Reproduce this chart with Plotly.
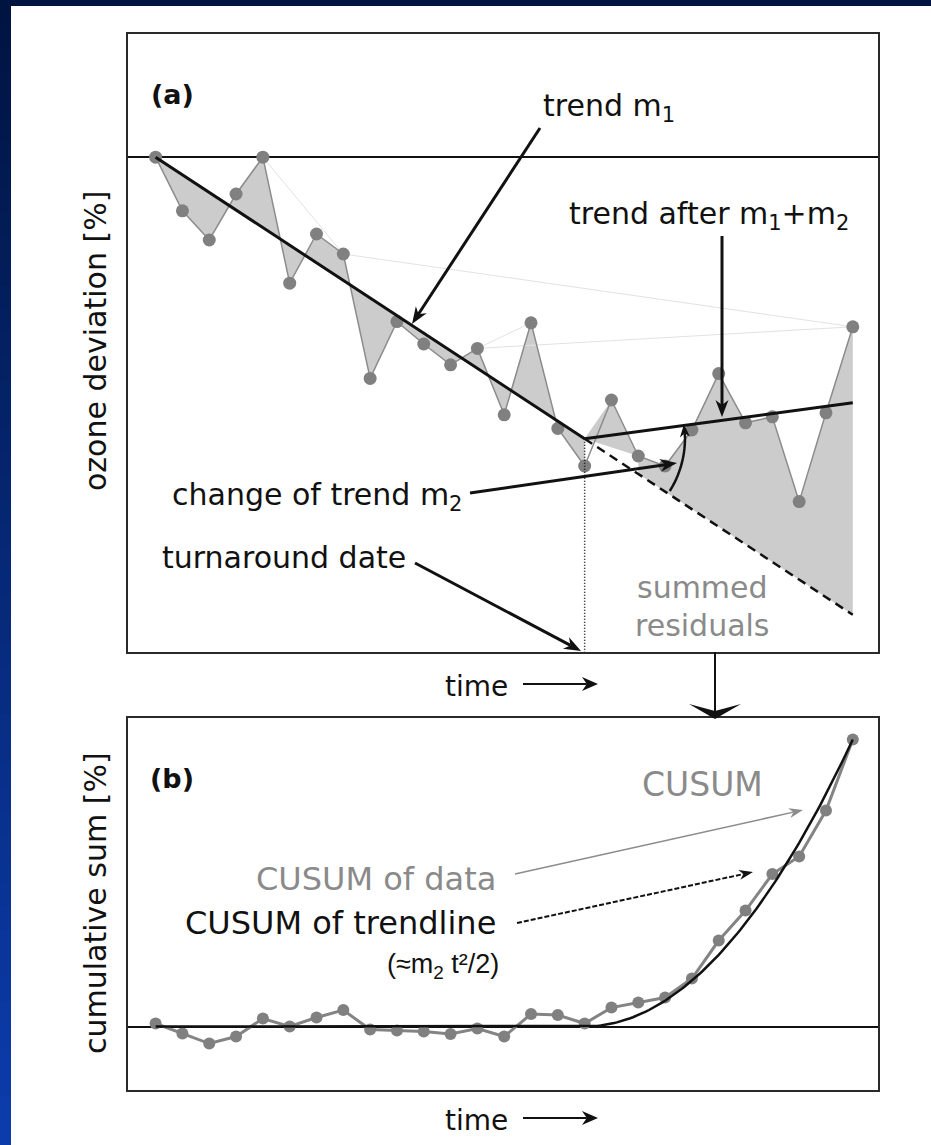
import math
import plotly.graph_objects as go

W, H = 931, 1145

# ---- data -----------------------------------------------------------------
# time index of the samples
t = list(range(27))
# ozone deviation [%] of each sample (panel a)
ozone = [0.0, -1.34, -2.07, -0.92, 0.0, -3.15, -1.92, -2.42, -5.53, -4.11,
         -4.67, -5.19, -4.78, -6.44, -4.14, -6.78, -7.72, -6.07, -7.47, -7.72,
         -6.82, -5.41, -6.64, -6.49, -8.61, -6.39, -4.24]
# cumulative sum of the residuals (panel b)
cusum = [0.28, -0.65, -1.57, -0.92, 0.74, 0.0, 0.83, 1.52, -0.28, -0.37,
         -0.46, -0.69, -0.18, -0.92, 1.15, 1.06, 0.28, 1.75, 2.22, 2.68,
         4.43, 7.94, 10.71, 14.08, 15.70, 19.94, 26.50]
m1 = -0.44       # initial trend per time step
m2 = 0.53        # change of trend after the turnaround
t_turn = 16      # turnaround date (index)

# ---- helpers (pixel -> paper) ---------------------------------------------
def px(x):
    return x / W


def py(y):
    return 1 - y / H


FONT = "DejaVu Sans, Liberation Sans, Arial"
BLACK = "#111111"
GREY_TXT = "#8a8a8a"
FILL = "#cccccc"

shapes = []
annotations = []


def seg(x0, y0, x1, y1, color=BLACK, width=3, dash=None):
    line = dict(color=color, width=width)
    if dash:
        line["dash"] = dash
    shapes.append(dict(type="line", xref="paper", yref="paper",
                       x0=px(x0), y0=py(y0), x1=px(x1), y1=py(y1), line=line))


def poly(points, fill=BLACK, close=True, line_color=None, line_width=0):
    d = "M " + " L ".join(f"{px(a):.5f},{py(b):.5f}" for a, b in points)
    if close:
        d += " Z"
    shp = dict(type="path", xref="paper", yref="paper", path=d,
               line=dict(width=line_width, color=line_color or fill))
    shp["fillcolor"] = fill if close else "rgba(0,0,0,0)"
    shapes.append(shp)


def arrow(x0, y0, x1, y1, color=BLACK, width=3, hl=17, hw=6.5, notch=0.3, dash=None):
    dx, dy = x1 - x0, y1 - y0
    L = math.hypot(dx, dy)
    ux, uy = dx / L, dy / L
    nx, ny = -uy, ux
    bx, by = x1 - ux * hl, y1 - uy * hl
    cx, cy = x1 - ux * hl * (1 - notch), y1 - uy * hl * (1 - notch)
    seg(x0, y0, cx, cy, color, width, dash)
    poly([(x1, y1), (bx + nx * hw, by + ny * hw), (cx, cy),
          (bx - nx * hw, by - ny * hw)], fill=color)


def text(x, y, s, size=30, color=BLACK, anchor="left", bold=False, angle=0,
         family=FONT):
    annotations.append(dict(
        x=px(x), y=py(y), xref="paper", yref="paper", text=s, showarrow=False,
        xanchor=anchor, yanchor="middle", textangle=angle,
        font=dict(family=family, size=size, color=color,
                  weight="bold" if bold else "normal")))


# ---- background: blue slide with white card --------------------------------
def lerp(c0, c1, f):
    return "rgb(%d,%d,%d)" % tuple(round(a + (b - a) * f) for a, b in zip(c0, c1))


top_c, bot_c = (0, 20, 66), (12, 60, 172)
N = 48
for i in range(N):
    shapes.append(dict(type="rect", xref="paper", yref="paper", layer="below",
                       x0=0, x1=px(12), y0=py((i + 1) * H / N + 1.5),
                       y1=py(i * H / N - 1.5),
                       fillcolor=lerp(top_c, bot_c, i / (N - 1)), line=dict(width=0)))
shapes.append(dict(type="rect", xref="paper", yref="paper", layer="below",
                   x0=0, x1=1, y0=py(6), y1=1, fillcolor=lerp(top_c, top_c, 0),
                   line=dict(width=0)))
shapes.append(dict(type="rect", xref="paper", yref="paper", layer="below",
                   x0=px(11), x1=1, y0=0, y1=py(6), fillcolor="white",
                   line=dict(width=0)))

# ---- traces: panel (a) -----------------------------------------------------
fig = go.Figure()
# residual area before the turnaround: between samples and trend m1
t_a = [ti for ti in t if ti <= t_turn]
fig.add_trace(go.Scatter(x=t_a, y=[m1 * ti for ti in t_a], mode="lines",
                         line=dict(width=0), hoverinfo="skip", xaxis="x", yaxis="y"))
fig.add_trace(go.Scatter(x=t_a, y=ozone[:t_turn + 1], mode="lines", line=dict(width=0),
                         fill="tonexty", fillcolor=FILL,
                         hoverinfo="skip", xaxis="x", yaxis="y"))
# residual area after the turnaround: samples against the extrapolated trend
fig.add_trace(go.Scatter(x=[t_turn, t[17], t[18]],
                         y=[m1 * t_turn, ozone[17], ozone[18]],
                         mode="lines", line=dict(width=0), fill="toself",
                         fillcolor=FILL, hoverinfo="skip", xaxis="x", yaxis="y"))
fig.add_trace(go.Scatter(x=t[18:] + [t[26], t[18]],
                         y=ozone[18:] + [m1 * t[26], m1 * t[18]],
                         mode="lines", line=dict(width=0), fill="toself",
                         fillcolor=FILL, hoverinfo="skip", xaxis="x", yaxis="y"))
# faint construction edges between samples
for idx in ([4, 7, 26], [12, 14], [12, 26]):
    fig.add_trace(go.Scatter(x=[t[i] for i in idx], y=[ozone[i] for i in idx],
                             mode="lines", line=dict(color="#e2e2e2", width=1),
                             hoverinfo="skip", xaxis="x", yaxis="y"))
fig.add_trace(go.Scatter(x=t, y=ozone, mode="lines+markers",
                         line=dict(color="#8c8c8c", width=1.5),
                         marker=dict(color="#808080", size=13),
                         xaxis="x", yaxis="y"))
# trend m1 up to the turnaround, then the extrapolated (dashed) trend
t_b = [ti for ti in t if ti >= t_turn]
fig.add_trace(go.Scatter(x=t_a, y=[m1 * ti for ti in t_a], mode="lines",
                         line=dict(color=BLACK, width=3), xaxis="x", yaxis="y"))
fig.add_trace(go.Scatter(x=t_b, y=[m1 * ti for ti in t_b], mode="lines",
                         line=dict(color=BLACK, width=2.5, dash="9px,6px"),
                         xaxis="x", yaxis="y"))
fig.add_trace(go.Scatter(x=t_b, y=[m1 * t_turn + (m1 + m2) * (ti - t_turn) for ti in t_b],
                         mode="lines", line=dict(color=BLACK, width=3),
                         xaxis="x", yaxis="y"))
# turnaround marker line
fig.add_trace(go.Scatter(x=[t_turn, t_turn], y=[m1 * t_turn, -12.37], mode="lines",
                         line=dict(color=BLACK, width=1.5, dash="1px,2px"),
                         xaxis="x", yaxis="y"))

# ---- traces: panel (b) -----------------------------------------------------
fig.add_trace(go.Scatter(x=t, y=cusum, mode="lines+markers",
                         line=dict(color="#848484", width=3),
                         marker=dict(color="#808080", size=12),
                         xaxis="x2", yaxis="y2"))
tc = [t_turn + k * 0.1 for k in range(int((t[-1] - t_turn) * 10) + 1)]
fig.add_trace(go.Scatter(x=[t[0], t_turn] + tc,
                         y=[0, 0] + [m2 * (v - t_turn) ** 2 / 2 for v in tc],
                         mode="lines", line=dict(color=BLACK, width=2.5),
                         xaxis="x2", yaxis="y2"))

# ---- annotations: panel (a) ------------------------------------------------
text(172, 95, "(a)", size=27, bold=True, anchor="center")
text(541, 108, "trend m<sub>1</sub>")
arrow(540, 128, 412, 324)
text(567, 215, "trend after m<sub>1</sub>+m<sub>2</sub>")
arrow(722, 236, 722, 417)
text(170, 496, "change of trend m<sub>2</sub>")
arrow(470, 493, 677, 463)
# angle between the two trends, measured at the turnaround
vx, vy, r = 585, 438, 100
arc = [(vx + r * math.cos(math.radians(a)), vy + r * math.sin(math.radians(a)))
       for a in [32 - k * 2 for k in range(17)]]
poly(arc, fill=BLACK, close=False, line_color=BLACK, line_width=2.5)
arrow(arc[-1][0], arc[-1][1], vx + r * math.cos(math.radians(-8)),
      vy + r * math.sin(math.radians(-8)), hl=13, hw=5, width=2.5)
text(160, 557, "turnaround date")
arrow(415, 563, 581, 651)
text(702, 587, "summed", color=GREY_TXT, anchor="center")
text(702, 625, "residuals", color=GREY_TXT, anchor="center")
text(95, 341, "ozone deviation [%]", anchor="center", angle=-90)
text(476, 686, "time", size=28, anchor="center")
arrow(523, 684, 598, 684, width=2, hl=16, hw=7)
# link from panel (a) to panel (b)
seg(715, 652, 715, 712, width=2)
poly([(689, 704), (715, 719), (741, 704), (715, 711)])

# ---- annotations: panel (b) ------------------------------------------------
text(172, 778, "(b)", size=27, bold=True, anchor="center")
text(702, 784, "CUSUM", size=33, color=GREY_TXT, anchor="center")
text(498, 879, "CUSUM of data", size=32, color=GREY_TXT, anchor="right")
text(498, 923, "CUSUM of trendline", size=32, anchor="right")
text(501, 966, "(≈m<sub>2</sub> t²/2)", size=27, anchor="right",
     family="Liberation Sans, Arial")
arrow(515, 874, 803, 810, color="#8c8c8c", width=1.5, hl=14, hw=5)
arrow(517, 923, 753, 872, width=2, hl=14, hw=5, dash="5px,2px")
text(95, 903, "cumulative sum [%]", anchor="center", angle=-90)
text(476, 1120, "time", size=28, anchor="center")
arrow(523, 1118, 598, 1118, width=2, hl=16, hw=7)

# ---- layout ---------------------------------------------------------------
xdom = [128 / W, 878 / W]
frame = dict(showline=True, linecolor="#2a2a2a", linewidth=2, mirror=True,
             showgrid=False, showticklabels=False, ticks="", fixedrange=True)
fig.update_layout(
    width=W, height=H, margin=dict(l=0, r=0, t=0, b=0),
    paper_bgcolor=lerp(top_c, bot_c, 0.5), plot_bgcolor="white", showlegend=False,
    xaxis=dict(domain=xdom, range=[-1.03, 26.94], anchor="y", zeroline=False, **frame),
    yaxis=dict(domain=[1 - 652 / H, 1 - 34 / H], range=[-12.37, 3.08], anchor="x",
               zeroline=True, zerolinecolor=BLACK, zerolinewidth=2, **frame),
    xaxis2=dict(domain=xdom, range=[-1.03, 26.94], anchor="y2", zeroline=False, **frame),
    yaxis2=dict(domain=[1 - 1090 / H, 1 - 718 / H], range=[-5.86, 28.49], anchor="x2",
                zeroline=True, zerolinecolor=BLACK, zerolinewidth=2, **frame),
    shapes=shapes, annotations=annotations,
)
fig.write_html("out.html")
